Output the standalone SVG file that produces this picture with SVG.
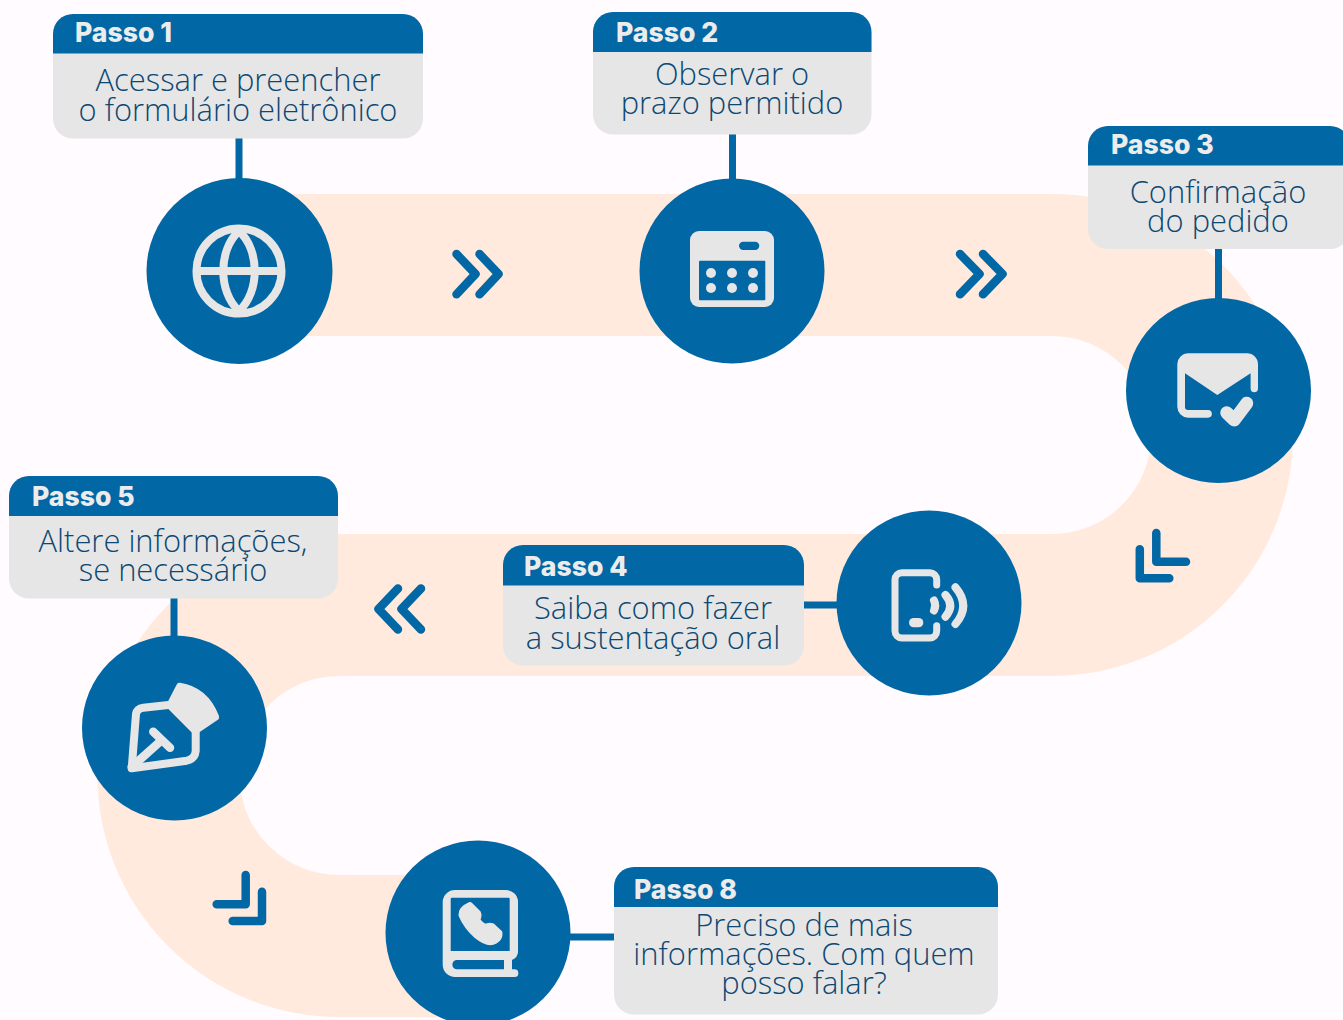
<svg xmlns="http://www.w3.org/2000/svg" width="1343" height="1020" viewBox="0 0 1343 1020">
<style>
.card{fill:#e6e6e6}
.hd{fill:#0267a5}
.c{fill:#0267a5}
.t{font-family:"Open Sans","Liberation Sans",sans-serif;font-weight:300;font-size:30.900px;fill:#0d4873;text-anchor:middle}
.h{font-family:"Inter","Liberation Sans",sans-serif;font-weight:800;font-size:26.600px;fill:#ececec}
.i{fill:#e6e6e6}
.is{fill:none;stroke:#e6e6e6;stroke-linecap:round;stroke-linejoin:round}
.k{fill:none;stroke:#0267a5;stroke-width:8.500;stroke-linecap:round;stroke-linejoin:round}
.l{fill:none;stroke:#0267a5;stroke-width:7}
</style>
<rect width="1343" height="1020" fill="#fffbfe"/>
<path d="M240 265H1052A170 170 0 0 1 1052 605H339A170.500 170.500 0 0 0 339 946H478" fill="none" stroke="#ffeadd" stroke-width="142"/>
<g id="marks">
<path class="k" d="M456.500 254L475.500 274L456.500 294.300M479.500 254L498.500 274L479.500 294.300"/>
<path class="k" d="M960 254L979.500 274L960 294.300M983 254L1002.500 274L983 294.300"/>
<path class="k" d="M398 588.500L378.500 609L398 629.500M421 588.500L401.500 609L421 629.500"/>
<path class="k" d="M1156.300 533V561.700H1186M1139.800 549.300V578.300H1169.300"/>
<path class="k" d="M245.700 875V904.300H216.700M262 891.700V921H232.700"/>
</g>
<g id="connectors">
<path class="l" d="M239 138V180"/>
<path class="l" d="M732.500 134V180"/>
<path class="l" d="M1218.500 249V300"/>
<path class="l" d="M804 605H838"/>
<path class="l" d="M174 598V638"/>
<path class="l" d="M570 937H614"/>
</g>
<g id="passo1">
<rect class="card" x="53" y="14" width="370" height="124.500" rx="20"/>
<path class="hd" d="M53 53.500V34A20 20 0 0 1 73 14H403A20 20 0 0 1 423 34V53.500Z"/>
<text class="h" x="75" y="42">Passo 1</text>
<text class="t" x="238" y="91">Acessar e preencher</text>
<text class="t" x="238" y="121">o formulário eletrônico</text>
<circle class="c" cx="239.500" cy="271" r="93"/>
<g class="is" stroke-width="8"><circle cx="239" cy="271" r="42.500"/><path d="M197 271H281M239 231C218 250 218 292 239 311C260 292 260 250 239 231Z"/></g>
</g>
<g id="passo2">
<rect class="card" x="593" y="12" width="278.500" height="122.500" rx="20"/>
<path class="hd" d="M593 52V32A20 20 0 0 1 613 12H851.500A20 20 0 0 1 871.500 32V52Z"/>
<text class="h" x="616" y="42">Passo 2</text>
<text class="t" x="732" y="85">Observar o</text>
<text class="t" x="732" y="114">prazo permitido</text>
<circle class="c" cx="732" cy="271" r="92.500"/>
<rect class="i" x="690" y="231" width="84" height="76" rx="9"/>
<rect class="c" x="699" y="260.700" width="66.300" height="39.500" rx="1"/>
<rect class="c" x="739" y="241.700" width="20.300" height="8.300" rx="4.150"/>
<g class="i"><circle cx="711" cy="273" r="5"/><circle cx="732" cy="273" r="5"/><circle cx="753" cy="273" r="5"/><circle cx="711" cy="288" r="5"/><circle cx="732" cy="288" r="5"/><circle cx="753" cy="288" r="5"/></g>
</g>
<g id="passo3">
<rect class="card" x="1088" y="126" width="262" height="123" rx="20"/>
<path class="hd" d="M1088 165.500V146A20 20 0 0 1 1108 126H1330A20 20 0 0 1 1350 146V165.500Z"/>
<text class="h" x="1111" y="154">Passo 3</text>
<text class="t" x="1218" y="203">Confirmação</text>
<text class="t" x="1218" y="232">do pedido</text>
<circle class="c" cx="1218.500" cy="390.500" r="92.500"/>
<path class="i" d="M1188 353.300H1247A11 11 0 0 1 1258 364.300V388.500A3.700 3.700 0 0 1 1250.600 388.500V373.300L1217.300 395L1185 373.300V407Q1185 410 1188 410H1208A3.850 3.850 0 0 1 1208 417.700H1188A11 11 0 0 1 1177.300 407V364A11 11 0 0 1 1188 353.300Z"/>
<path class="is" stroke-width="13" d="M1226.700 412.700L1234.300 420L1246.700 403.300"/>
</g>
<g id="passo4">
<rect class="card" x="503" y="545" width="301" height="120.500" rx="20"/>
<path class="hd" d="M503 585.500V565A20 20 0 0 1 523 545H784A20 20 0 0 1 804 565V585.500Z"/>
<text class="h" x="524" y="576">Passo 4</text>
<text class="t" x="653" y="619">Saiba como fazer</text>
<text class="t" x="653" y="649">a sustentação oral</text>
<circle class="c" cx="929" cy="603" r="92.500"/>
<g class="is" stroke-width="7"><path d="M936.700 585V579.700A7 7 0 0 0 929.700 572.700H902A7 7 0 0 0 895 579.700V631A7 7 0 0 0 902 638H929.700A7 7 0 0 0 936.700 631V625.700"/></g>
<g class="is" stroke-width="8"><path d="M934 600.500Q936.500 605.500 934 610.500M945.500 595Q955 605.800 945.500 616.700M955.500 587.300Q971 605.700 955.500 624"/></g>
<rect class="i" x="909" y="618" width="14.300" height="9.300" rx="4.650"/>
</g>
<g id="passo5">
<rect class="card" x="9" y="476" width="329" height="122.500" rx="20"/>
<path class="hd" d="M9 516V496A20 20 0 0 1 29 476H318A20 20 0 0 1 338 496V516Z"/>
<text class="h" x="32" y="506">Passo 5</text>
<text class="t" x="173" y="552">Altere informações,</text>
<text class="t" x="173" y="581">se necessário</text>
<circle class="c" cx="174.500" cy="728" r="92.500"/>
<path class="i" d="M180 682.700Q208 687 219 716Q219.500 719 217.500 720L199 732.500H191.700L168.300 709V700.700L177 684Q178 682.500 180 682.700Z"/>
<path class="is" stroke-width="8" d="M168.300 705L143.300 707.700Q137 708.500 136 714L131.700 768.300L186.700 760.700Q195 759 195.700 751V731.700"/>
<path class="is" stroke-width="8.500" d="M131.700 767L160 741.700M153.300 731.700L170 747.700"/>
</g>
<g id="passo8">
<rect class="card" x="614" y="867" width="384" height="147.500" rx="20"/>
<path class="hd" d="M614 907V887A20 20 0 0 1 634 867H978A20 20 0 0 1 998 887V907Z"/>
<text class="h" x="634" y="899">Passo 8</text>
<text class="t" x="804" y="936">Preciso de mais</text>
<text class="t" x="804" y="965">informações. Com quem</text>
<text class="t" x="804" y="994">posso falar?</text>
<circle class="c" cx="478" cy="933" r="92.500"/>
<path class="i" fill-rule="evenodd" d="M455 890H506A12 12 0 0 1 518 902V952Q518 957 512 960V969.300H514.500A3.850 3.850 0 0 1 514.500 977H455A12.300 12.300 0 0 1 442.700 965V902A12.300 12.300 0 0 1 455 890ZM452 897.700Q450.700 897.700 450.700 899V951H509.700V899Q509.700 897.700 508.500 897.700ZM504 960H457A4.650 4.650 0 0 0 457 969.300H504Z"/>
<path class="i" stroke="#e6e6e6" stroke-width="6" stroke-linejoin="round" d="M470 905L478 913Q479.500 916 477 920Q481 925 485 927Q489 925 492 926L499.500 933Q500 938 495 941Q488 945 477 936Q466 926 461.500 915Q461 909 470 905Z"/>
</g>
</svg>
